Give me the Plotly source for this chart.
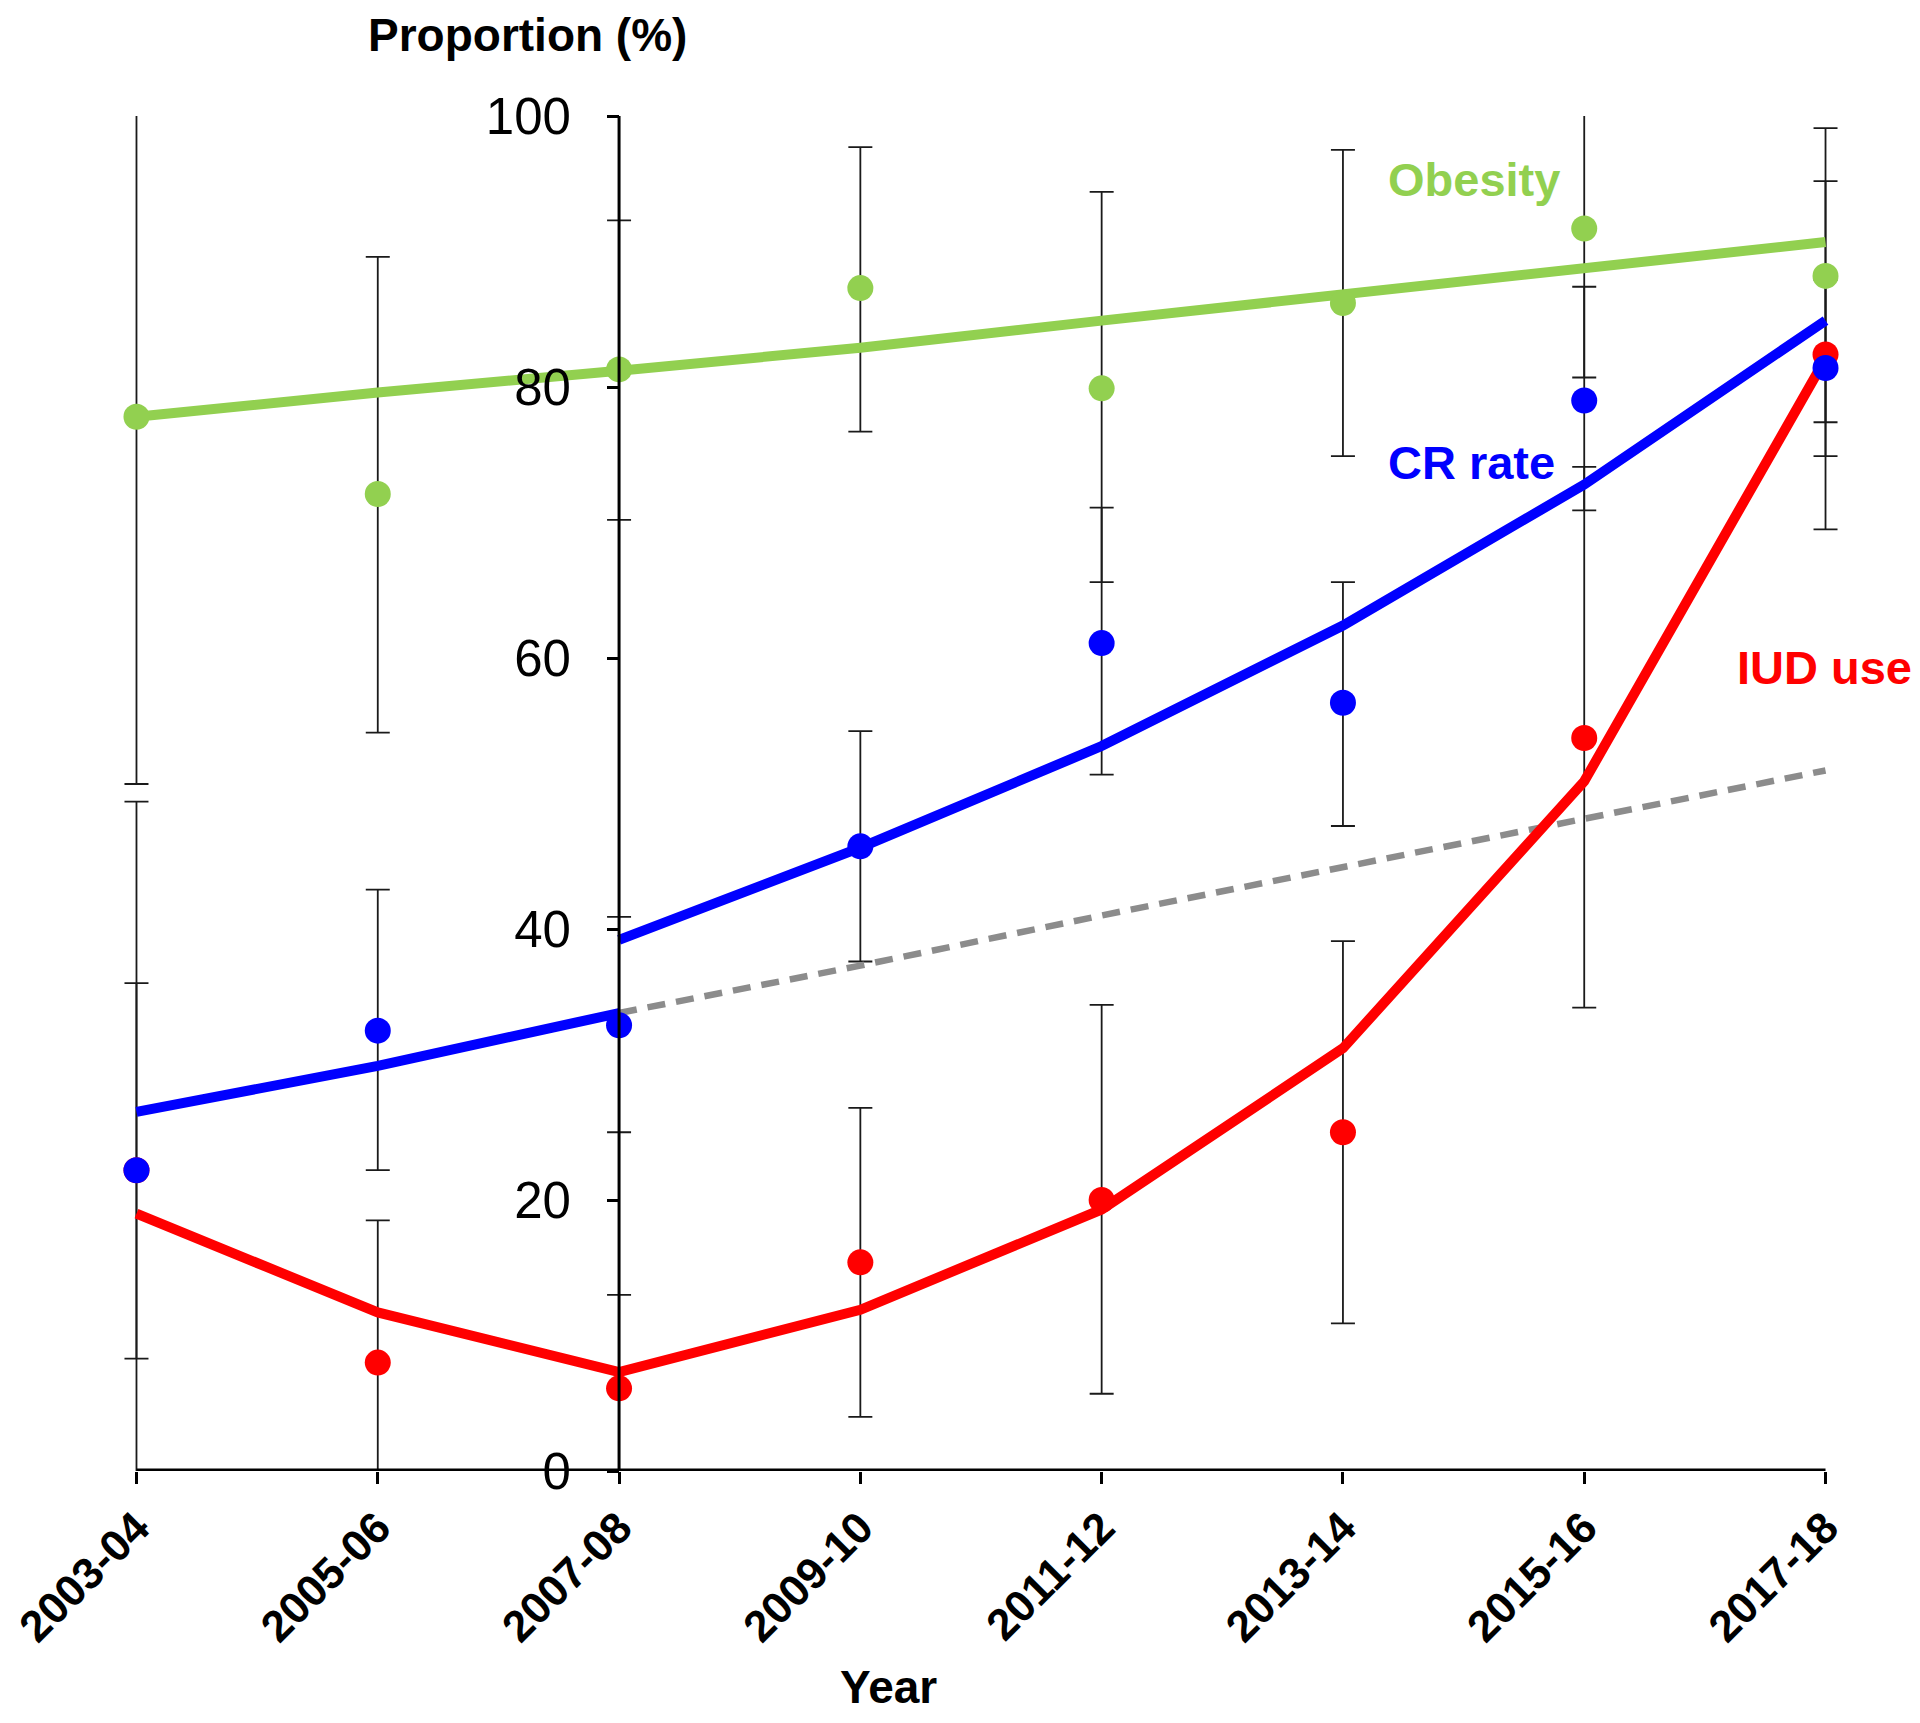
import plotly.graph_objects as go

# ---------------- data ----------------
categories = ["2003-04", "2005-06", "2007-08", "2009-10", "2011-12", "2013-14", "2015-16", "2017-18"]

obesity = [77.8, 72.1, 81.3, 87.3, 79.9, 86.2, 91.7, 88.2]
obesity_lo = [50.7, 54.5, 70.2, 76.7, 65.6, 74.9, 80.7, 77.4]
obesity_hi = [104.9, 89.6, 92.3, 97.7, 94.4, 97.5, 102.7, 99.1]
obesity_fit = [77.8, 79.6, 81.2, 82.9, 84.9, 86.8, 88.7, 90.7]

cr_rate = [22.2, 32.5, 32.9, 46.1, 61.1, 56.7, 79.0, 81.4]
cr_lo = [-5.0, 22.2, 25.0, 37.6, 51.4, 47.6, 70.9, 74.9]
cr_hi = [49.4, 42.9, 40.9, 54.6, 71.1, 65.6, 87.4, 87.9]
cr_fit_early = [26.5, 29.9, 33.8]            # 2003-04 .. 2007-08
cr_fit_late = [39.2, 46.0, 53.5, 62.4, 72.8, 84.9]   # 2007-08 .. 2017-18
cr_projection = [33.8, 37.3, 41.0, 44.6, 48.2, 51.7]  # 2007-08 .. 2017-18 (dashed)

iud = [22.2, 8.0, 6.1, 15.4, 20.0, 25.0, 54.1, 82.4]
iud_lo = [8.3, -2.5, -1.0, 4.0, 5.7, 10.9, 34.2, 69.5]
iud_hi = [36.0, 18.5, 13.0, 26.8, 34.4, 39.1, 74.1, 95.2]
iud_fit = [19.0, 11.7, 7.3, 11.9, 19.3, 31.2, 50.9, 82.1]

y_ticks = [0, 20, 40, 60, 80, 100]

# ---------------- styling ----------------
GREEN = "#92D050"
BLUE = "#0000FF"
RED = "#FF0000"
GRAY = "#8C8C8C"
FONT = "Liberation Sans, Arial, sans-serif"

xs = list(range(len(categories)))
fig = go.Figure()


def err_trace(vals, lo, hi):
    return go.Scatter(
        x=xs, y=vals, mode="markers",
        marker=dict(size=1, color="rgba(0,0,0,0)"),
        error_y=dict(type="data", symmetric=False,
                     array=[h - v for h, v in zip(hi, vals)],
                     arrayminus=[v - l for v, l in zip(vals, lo)],
                     color="#1a1a1a", thickness=1.8, width=12),
        hoverinfo="skip", showlegend=False,
    )


# error bars first
fig.add_trace(err_trace(obesity, obesity_lo, obesity_hi))
fig.add_trace(err_trace(iud, iud_lo, iud_hi))
fig.add_trace(err_trace(cr_rate, cr_lo, cr_hi))

# fitted lines
LW = 10
fig.add_trace(go.Scatter(x=xs, y=obesity_fit, mode="lines",
                         line=dict(color=GREEN, width=LW), showlegend=False))
fig.add_trace(go.Scatter(x=xs[2:], y=cr_projection, mode="lines",
                         line=dict(color=GRAY, width=6.5, dash="18px,11px"), showlegend=False))
fig.add_trace(go.Scatter(x=xs[:3], y=cr_fit_early, mode="lines",
                         line=dict(color=BLUE, width=LW), showlegend=False))
fig.add_trace(go.Scatter(x=xs[2:], y=cr_fit_late, mode="lines",
                         line=dict(color=BLUE, width=LW), showlegend=False))
fig.add_trace(go.Scatter(x=xs, y=iud_fit, mode="lines",
                         line=dict(color=RED, width=LW), showlegend=False))

# observed points
MS = 26
fig.add_trace(go.Scatter(x=xs, y=obesity, mode="markers",
                         marker=dict(color=GREEN, size=MS), showlegend=False))
fig.add_trace(go.Scatter(x=xs, y=iud, mode="markers",
                         marker=dict(color=RED, size=MS), showlegend=False))
fig.add_trace(go.Scatter(x=xs, y=cr_rate, mode="markers",
                         marker=dict(color=BLUE, size=MS), showlegend=False))

# axis lines as shapes so they span exactly the data extent
fig.add_shape(type="line", xref="x", yref="y", x0=0, x1=7, y0=0, y1=0,
              line=dict(color="black", width=5), layer="above")
fig.add_shape(type="line", xref="x", yref="y", x0=2, x1=2, y0=0, y1=100,
              line=dict(color="black", width=3), layer="above")

x_lo, x_hi = -0.06, 7.06
fig.update_layout(
    width=1920, height=1723,
    margin=dict(l=114, r=88, t=108, b=260, autoexpand=False),
    plot_bgcolor="white", paper_bgcolor="white",
    font=dict(family=FONT, color="black"),
    xaxis=dict(
        range=[x_lo, x_hi], tickmode="array", tickvals=xs, ticktext=categories,
        tickangle=-45, ticks="outside", ticklen=12, tickwidth=3, tickcolor="black",
        tickfont=dict(size=44, family=FONT, weight="bold", color="black"),
        showline=False, showgrid=False, zeroline=False, ticklabelstandoff=0,
        ticklabeloverflow="allow", automargin=False,
    ),
    yaxis=dict(
        range=[0, 100], tickmode="array", tickvals=y_ticks,
        anchor="free", position=(2 - x_lo) / (x_hi - x_lo),
        ticks="outside", ticklen=12, tickwidth=3, tickcolor="black",
        tickfont=dict(size=51, family=FONT, color="black"),
        showline=False, showgrid=False, zeroline=False, ticklabelstandoff=26,
        ticklabeloverflow="allow", automargin=False,
    ),
)

annotations = [
    dict(text="Proportion (%)", x=0.2363, y=1.0598, xref="paper", yref="paper",
         xanchor="center", yanchor="middle",
         font=dict(size=46, color="black", weight="bold")),
    dict(text="Year", x=0.4459, y=-0.1594, xref="paper", yref="paper",
         xanchor="center", yanchor="middle",
         font=dict(size=46, color="black", weight="bold")),
    dict(text="Obesity", x=5.18, y=95.3, xref="x", yref="y", xanchor="left", yanchor="middle",
         font=dict(size=47, color=GREEN, weight="bold")),
    dict(text="CR rate", x=5.18, y=74.4, xref="x", yref="y", xanchor="left", yanchor="middle",
         font=dict(size=47, color=BLUE, weight="bold")),
    dict(text="IUD use", x=6.625, y=59.3, xref="x", yref="y", xanchor="left", yanchor="middle",
         font=dict(size=47, color=RED, weight="bold")),
]
for a in annotations:
    a.update(showarrow=False)
    a["font"]["family"] = FONT
fig.update_layout(annotations=annotations)

fig.write_html("out.html")
